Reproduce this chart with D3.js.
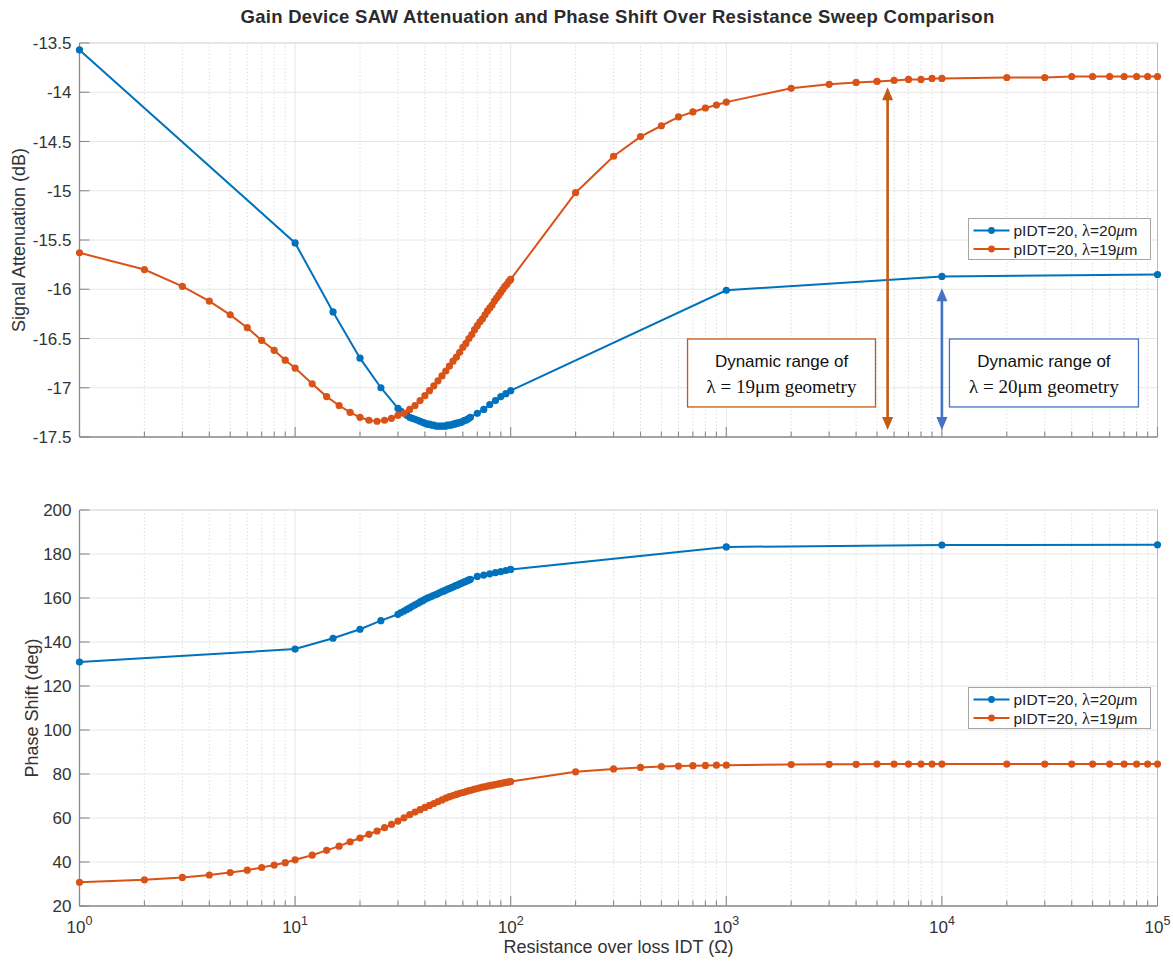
<!DOCTYPE html>
<html>
<head>
<meta charset="utf-8">
<script src="https://cdn.jsdelivr.net/npm/d3@7"></script>
<style>
  body { margin: 0; background: #fff; }
  svg { display: block; font-family: "Liberation Sans", Arial, Helvetica, sans-serif; }
</style>
</head>
<body>
<svg id="chart" width="1173" height="961"></svg>
<script>
// ---- Sweep data -------------------------------------------------------
// lambda = 20 um geometry
const resBlue = [1, 10, 15, 20, 25,
  30, 31, 32, 33, 34, 35, 36, 37, 38, 39, 40, 41, 42, 43, 44, 45, 46, 47, 48, 49,
  50, 51, 52, 53, 54, 55, 56, 57, 58, 59, 60, 61, 62, 63, 64, 65,
  70, 75, 80, 85, 90, 95, 100, 1000, 10000, 100000];
const attenBlue = [-13.57, -15.53, -16.23, -16.70, -17.00,
  -17.21, -17.24, -17.26, -17.28, -17.30, -17.31, -17.32, -17.33, -17.34, -17.35,
  -17.36, -17.37, -17.37, -17.38, -17.38, -17.39, -17.39, -17.39, -17.39, -17.39,
  -17.39, -17.38, -17.38, -17.38, -17.37, -17.37, -17.36, -17.36, -17.35, -17.35,
  -17.34, -17.33, -17.33, -17.32, -17.31, -17.30,
  -17.26, -17.22, -17.17, -17.13, -17.09, -17.06, -17.03, -16.01, -15.87, -15.85];
const phaseBlue = [130.9, 136.8, 141.7, 145.8, 149.7,
  152.6, 153.4, 154.1, 154.8, 155.5, 156.2, 156.9, 157.5, 158.2, 158.8,
  159.4, 159.9, 160.3, 160.8, 161.2, 161.6, 162.0, 162.5, 162.9, 163.2,
  163.6, 164.0, 164.3, 164.7, 165.0, 165.4, 165.7, 166.0, 166.4, 166.7,
  167.0, 167.3, 167.6, 167.9, 168.2, 168.5,
  169.8, 170.4, 171.0, 171.5, 172.0, 172.5, 173.0, 183.2, 184.1, 184.2];

// lambda = 19 um geometry
const resOrange = [1, 2, 3, 4, 5, 6, 7, 8, 9, 10,
  12, 14, 16, 18, 20, 22, 24, 26, 28, 30,
  32, 34, 36, 38, 40, 42, 44, 46, 48, 50, 52, 54, 56, 58, 60, 62, 64, 66, 68, 70,
  72, 74, 76, 78, 80, 82, 84, 86, 88, 90, 92, 94, 96, 98, 100,
  200, 300, 400, 500, 600, 700, 800, 900, 1000,
  2000, 3000, 4000, 5000, 6000, 7000, 8000, 9000, 10000,
  20000, 30000, 40000, 50000, 60000, 70000, 80000, 90000, 100000];
const attenOrange = [-15.63, -15.80, -15.97, -16.12, -16.26, -16.39, -16.52, -16.62, -16.72, -16.80,
  -16.96, -17.09, -17.18, -17.25, -17.30, -17.33, -17.34, -17.33, -17.31, -17.28,
  -17.26, -17.22, -17.18, -17.13, -17.08, -17.03, -16.98, -16.93, -16.88, -16.83,
  -16.78, -16.73, -16.69, -16.64, -16.59, -16.55, -16.50, -16.46, -16.41, -16.37,
  -16.33, -16.30, -16.26, -16.22, -16.19, -16.16, -16.12, -16.09, -16.06, -16.03,
  -16.00, -15.97, -15.95, -15.92, -15.90,
  -15.02, -14.65, -14.45, -14.34, -14.25, -14.20, -14.16, -14.13, -14.10,
  -13.96, -13.92, -13.90, -13.89, -13.88, -13.87, -13.87, -13.86, -13.86,
  -13.85, -13.85, -13.84, -13.84, -13.84, -13.84, -13.84, -13.84, -13.84];
const phaseOrange = [30.8, 31.9, 33.0, 34.1, 35.2, 36.3, 37.5, 38.6, 39.7, 41.0,
  43.1, 45.3, 47.2, 49.2, 50.9, 52.6, 54.1, 55.6, 57.1, 58.6,
  60.1, 61.5, 62.7, 63.8, 64.8, 65.7, 66.6, 67.4, 68.2, 69.0,
  69.7, 70.2, 70.7, 71.2, 71.6, 72.0, 72.4, 72.7, 73.1, 73.4,
  73.7, 74.0, 74.2, 74.5, 74.7, 74.9, 75.1, 75.3, 75.5, 75.7,
  75.9, 76.1, 76.2, 76.4, 76.6,
  81.0, 82.3, 83.0, 83.4, 83.6, 83.8, 83.9, 84.0, 84.0,
  84.3, 84.4, 84.4, 84.5, 84.5, 84.5, 84.5, 84.5, 84.5,
  84.5, 84.5, 84.5, 84.5, 84.5, 84.5, 84.5, 84.5, 84.5];

const attenTicks = [-17.5, -17, -16.5, -16, -15.5, -15, -14.5, -14, -13.5];
const phaseTicks = [20, 40, 60, 80, 100, 120, 140, 160, 180, 200];
const decadeExponents = [0, 1, 2, 3, 4, 5];

const seriesNames = [
  { parts: [["pIDT=20, ", "s"], ["\u03bb", "g"], ["=20", "s"], ["\u03bc", "gi"], ["m", "s"]], color: "#0072BD" },
  { parts: [["pIDT=20, ", "s"], ["\u03bb", "g"], ["=19", "s"], ["\u03bc", "gi"], ["m", "s"]], color: "#D95319" }
];

// ---- Layout ---------------------------------------------------------
const svg = d3.select("#chart");
const AX_L = 79.5, AX_R = 1157.5;
const x = d3.scaleLog().domain([1, 1e5]).range([AX_L, AX_R]);

const AXIS_COL = "#8a8a8a", GRID_COL = "#e6e6e6", MINOR_COL = "#d6d6d6", TEXT_COL = "#333";
const SERIF = "'Liberation Serif', 'DejaVu Serif', serif";
const TICK_FS = 17, LABEL_FS = 18;

svg.append("text")
  .attr("x", (AX_L + AX_R) / 2 - 1).attr("y", 23)
  .attr("text-anchor", "middle")
  .attr("font-size", 18.5).attr("font-weight", "bold").attr("fill", "#2b2b2b")
  .attr("letter-spacing", 0.3)
  .text("Gain Device SAW Attenuation and Phase Shift Over Resistance Sweep Comparison");

function drawPanel(cfg) {
  const y = d3.scaleLinear().domain(cfg.domain).range([cfg.bottom, cfg.top]);
  const g = svg.append("g");
  const allX = x.ticks();
  const isMajor = v => Math.abs(Math.log10(v) - Math.round(Math.log10(v))) < 1e-9;

  // grid
  g.selectAll(".xminor").data(allX.filter(v => !isMajor(v))).join("line")
    .attr("x1", d => x(d)).attr("x2", d => x(d))
    .attr("y1", cfg.top).attr("y2", cfg.bottom)
    .attr("stroke", MINOR_COL).attr("stroke-width", 1).attr("stroke-dasharray", "1.2,2.4");
  g.selectAll(".xmajor").data(allX.filter(isMajor)).join("line")
    .attr("x1", d => x(d)).attr("x2", d => x(d))
    .attr("y1", cfg.top).attr("y2", cfg.bottom)
    .attr("stroke", GRID_COL).attr("stroke-width", 1);
  g.selectAll(".ygrid").data(cfg.ticks).join("line")
    .attr("x1", AX_L).attr("x2", AX_R)
    .attr("y1", d => y(d)).attr("y2", d => y(d))
    .attr("stroke", GRID_COL).attr("stroke-width", 1);

  // box (top/right faint)
  g.append("line").attr("x1", AX_L).attr("x2", AX_R).attr("y1", cfg.top).attr("y2", cfg.top)
    .attr("stroke", "#d9d9d9");
  g.append("line").attr("x1", AX_R).attr("x2", AX_R).attr("y1", cfg.top).attr("y2", cfg.bottom)
    .attr("stroke", "#bdbdbd");

  // axes
  g.append("line").attr("x1", AX_L).attr("x2", AX_L).attr("y1", cfg.top).attr("y2", cfg.bottom)
    .attr("stroke", AXIS_COL).attr("stroke-width", 1.3);
  g.append("line").attr("x1", AX_L).attr("x2", AX_R).attr("y1", cfg.bottom).attr("y2", cfg.bottom)
    .attr("stroke", AXIS_COL).attr("stroke-width", 1.3);

  g.selectAll(".xtick").data(allX).join("line")
    .attr("x1", d => x(d)).attr("x2", d => x(d))
    .attr("y1", cfg.bottom).attr("y2", d => cfg.bottom - (isMajor(d) ? 10 : 5.5))
    .attr("stroke", AXIS_COL).attr("stroke-width", 1.1);
  g.selectAll(".ytick").data(cfg.ticks).join("line")
    .attr("x1", AX_L).attr("x2", AX_L + 10)
    .attr("y1", d => y(d)).attr("y2", d => y(d))
    .attr("stroke", AXIS_COL).attr("stroke-width", 1.1);

  g.selectAll(".ylab").data(cfg.ticks).join("text")
    .attr("x", AX_L - 8).attr("y", d => y(d)).attr("dy", "0.36em")
    .attr("text-anchor", "end").attr("font-size", TICK_FS).attr("fill", TEXT_COL)
    .text(d => String(d));

  g.append("text")
    .attr("transform", `translate(${cfg.labelX},${(cfg.top + cfg.bottom) / 2}) rotate(-90)`)
    .attr("text-anchor", "middle").attr("font-size", LABEL_FS).attr("fill", TEXT_COL)
    .text(cfg.label);

  if (cfg.xLabels) {
    const lab = g.selectAll(".xlab").data(decadeExponents).join("text")
      .attr("x", d => x(Math.pow(10, d))).attr("y", cfg.bottom + 27)
      .attr("text-anchor", "middle").attr("font-size", TICK_FS).attr("fill", TEXT_COL);
    lab.append("tspan").text("10");
    lab.append("tspan").attr("dy", -8).attr("font-size", 12.5).text(d => d);
    g.append("text")
      .attr("x", (AX_L + AX_R) / 2).attr("y", cfg.bottom + 47)
      .attr("text-anchor", "middle").attr("font-size", LABEL_FS).attr("fill", TEXT_COL)
      .text("Resistance over loss IDT (\u03a9)");
  }

  // series
  const line = d3.line().x(d => x(d[0])).y(d => y(d[1]));
  cfg.series.forEach(s => {
    const pts = s.res.map((r, i) => [r, s.vals[i]]);
    g.append("path").datum(pts).attr("d", line)
      .attr("fill", "none").attr("stroke", s.color).attr("stroke-width", 2);
    g.append("g").selectAll("circle").data(pts).join("circle")
      .attr("cx", d => x(d[0])).attr("cy", d => y(d[1])).attr("r", 3.6)
      .attr("fill", s.color);
  });

  // legend
  const lg = g.append("g").attr("transform", `translate(${cfg.legend[0]},${cfg.legend[1]})`);
  lg.append("rect").attr("x", 0).attr("y", 0).attr("width", 182).attr("height", 41)
    .attr("fill", "#fff").attr("stroke", "#a6a6a6").attr("stroke-width", 1);
  seriesNames.forEach((s, i) => {
    const cy = 12 + i * 18.5;
    lg.append("line").attr("x1", 5).attr("x2", 41).attr("y1", cy).attr("y2", cy)
      .attr("stroke", s.color).attr("stroke-width", 2);
    lg.append("circle").attr("cx", 23).attr("cy", cy).attr("r", 3.4).attr("fill", s.color);
    const t = lg.append("text").attr("x", 45).attr("y", cy).attr("dy", "0.36em")
      .attr("font-size", 15.5).attr("fill", "#222");
    s.parts.forEach(([str, kind]) => {
      const sp = t.append("tspan").text(str);
      if (kind !== "s") sp.attr("font-family", SERIF).attr("font-size", 16.5);
      if (kind === "gi") sp.attr("font-style", "italic");
    });
  });
  return y;
}

const yTop = drawPanel({
  domain: [-17.5, -13.5], top: 43, bottom: 437, ticks: attenTicks,
  label: "Signal Attenuation (dB)", labelX: 25, xLabels: false,
  series: [
    { res: resBlue, vals: attenBlue, color: "#0072BD" },
    { res: resOrange, vals: attenOrange, color: "#D95319" }
  ],
  legend: [968.5, 218.5]
});

drawPanel({
  domain: [20, 200], top: 510, bottom: 906, ticks: phaseTicks,
  label: "Phase Shift (deg)", labelX: 38, xLabels: true,
  series: [
    { res: resBlue, vals: phaseBlue, color: "#0072BD" },
    { res: resOrange, vals: phaseOrange, color: "#D95319" }
  ],
  legend: [968.5, 687.5]
});

// ---- Dynamic range annotations --------------------------------------
const ranges = [
  { color: "#C55A11", at: 5600, from: -13.95, to: -17.43,
    box: [661, 4920, -16.505, -17.195], text: ["Dynamic range of", "\u03bb = 19\u03bcm geometry"] },
  { color: "#4472C4", at: 10000, from: -15.99, to: -17.43,
    box: [10840, 81600, -16.505, -17.195], text: ["Dynamic range of", "\u03bb = 20\u03bcm geometry"] }
];
const ann = svg.append("g");
ranges.forEach(r => {
  const ax = x(r.at), y1 = yTop(r.from), y2 = yTop(r.to);
  const hl = 13, hw = 5.5;
  ann.append("line").attr("x1", ax).attr("x2", ax).attr("y1", y1 + hl - 1).attr("y2", y2 - hl + 1)
    .attr("stroke", r.color).attr("stroke-width", 2.6);
  ann.append("path").attr("d", `M${ax},${y1} L${ax - hw},${y1 + hl} L${ax + hw},${y1 + hl} Z`).attr("fill", r.color);
  ann.append("path").attr("d", `M${ax},${y2} L${ax - hw},${y2 - hl} L${ax + hw},${y2 - hl} Z`).attr("fill", r.color);

  const bx0 = x(r.box[0]), bx1 = x(r.box[1]), by0 = yTop(r.box[2]), by1 = yTop(r.box[3]);
  ann.append("rect").attr("x", bx0).attr("y", by0).attr("width", bx1 - bx0).attr("height", by1 - by0)
    .attr("fill", "#fff").attr("stroke", r.color).attr("stroke-width", 1.3);
  const cx = (bx0 + bx1) / 2;
  ann.append("text").attr("x", cx).attr("y", by0 + 28).attr("text-anchor", "middle")
    .attr("font-size", 17).attr("fill", "#111").text(r.text[0]);
  ann.append("text").attr("x", cx).attr("y", by0 + 54).attr("text-anchor", "middle")
    .attr("font-family", SERIF).attr("font-size", 19).attr("fill", "#111").text(r.text[1]);
});
</script>
</body>
</html>
